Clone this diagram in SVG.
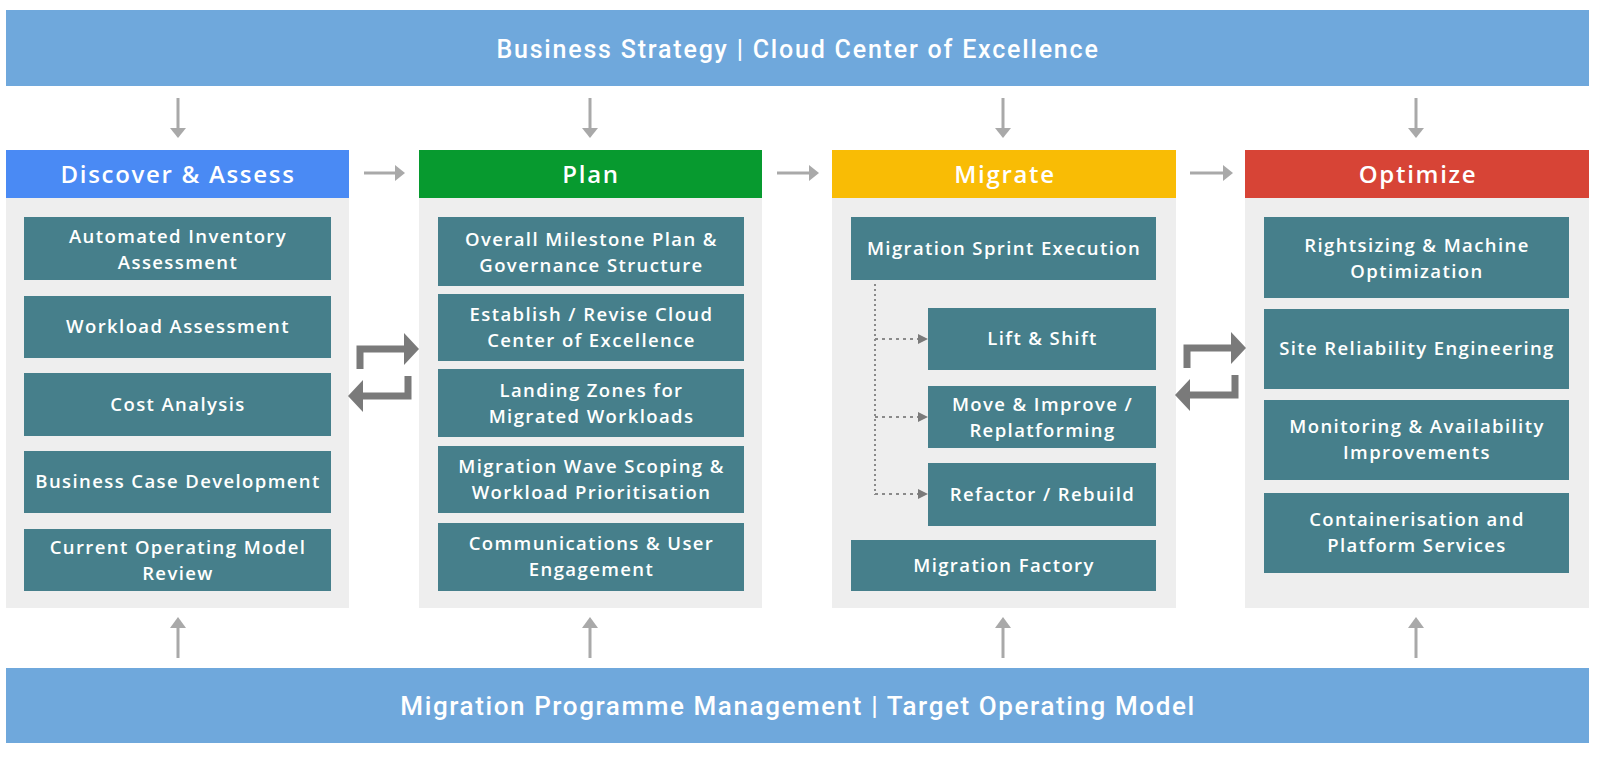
<svg xmlns="http://www.w3.org/2000/svg" width="1600" height="758" viewBox="0 0 1600 758">
<defs>
<style>
.band{fill:#6fa8dc}
.bandtxt{font-family:Roboto,"Liberation Sans",sans-serif;font-weight:500;font-size:25px;letter-spacing:1.8px;fill:#fff;text-anchor:middle}
.panel{fill:#eeeeee}
.hdrtxt{font-family:"Open Sans","Liberation Sans",sans-serif;font-weight:600;font-size:24px;letter-spacing:1.7px;fill:#fff;text-anchor:middle}
.box{fill:#467f8b}
.btxt{font-family:"Open Sans","Liberation Sans",sans-serif;font-weight:600;font-size:18.5px;letter-spacing:1.4px;fill:#fff;text-anchor:middle}
.flow{stroke:#a9a9a9;stroke-width:3;fill:none}
.flowhead{fill:#a9a9a9}
.swap{stroke:#7a7a7a;stroke-width:7;fill:none}
.swaphead{fill:#7a7a7a}
.dot{stroke:#8a8a8a;stroke-width:2;fill:none;stroke-dasharray:3 4}
</style>
<g id="swapicon">
<path class="swap" d="M360,369 V349 H407"/>
<polygon class="swaphead" points="404,333 419,349 404,365"/>
<path class="swap" d="M408,376 V396 H361"/>
<polygon class="swaphead" points="363,380 348,396 363,412"/>
</g>
</defs>

<g id="top-band">
<rect class="band" x="6" y="10" width="1583" height="76"/>
<text class="bandtxt" x="798" y="58">Business Strategy | Cloud Center of Excellence</text>
</g>

<g id="bottom-band">
<rect class="band" x="6" y="668" width="1583" height="75"/>
<text class="bandtxt" x="798" y="715" style="font-size:26px;letter-spacing:1.6px">Migration Programme Management | Target Operating Model</text>
</g>

<g id="discover">
<rect class="panel" x="6" y="198" width="343" height="410"/>
<rect x="6" y="150" width="343" height="48" fill="#4a8af4"/>
<text class="hdrtxt" x="178" y="183">Discover &amp; Assess</text>
<g id="d1"><rect class="box" x="24" y="217" width="307" height="63"/><text class="btxt" x="178" y="243">Automated Inventory</text><text class="btxt" x="178" y="269">Assessment</text></g>
<g id="d2"><rect class="box" x="24" y="296" width="307" height="62"/><text class="btxt" x="178" y="333">Workload Assessment</text></g>
<g id="d3"><rect class="box" x="24" y="373" width="307" height="63"/><text class="btxt" x="178" y="411">Cost Analysis</text></g>
<g id="d4"><rect class="box" x="24" y="451" width="307" height="62"/><text class="btxt" x="178" y="488">Business Case Development</text></g>
<g id="d5"><rect class="box" x="24" y="529" width="307" height="62"/><text class="btxt" x="178" y="554">Current Operating Model</text><text class="btxt" x="178" y="580">Review</text></g>
</g>

<g id="plan">
<rect class="panel" x="419" y="198" width="343" height="410"/>
<rect x="419" y="150" width="343" height="48" fill="#079a2f"/>
<text class="hdrtxt" x="591" y="183">Plan</text>
<g id="p1"><rect class="box" x="438" y="217" width="306" height="69"/><text class="btxt" x="591.5" y="246">Overall Milestone Plan &amp;</text><text class="btxt" x="591.5" y="272">Governance Structure</text></g>
<g id="p2"><rect class="box" x="438" y="294" width="306" height="67"/><text class="btxt" x="591.5" y="321">Establish / Revise Cloud</text><text class="btxt" x="591.5" y="347">Center of Excellence</text></g>
<g id="p3"><rect class="box" x="438" y="369" width="306" height="68"/><text class="btxt" x="591.5" y="397">Landing Zones for</text><text class="btxt" x="591.5" y="423">Migrated Workloads</text></g>
<g id="p4"><rect class="box" x="438" y="446" width="306" height="67"/><text class="btxt" x="591.5" y="473">Migration Wave Scoping &amp;</text><text class="btxt" x="591.5" y="499">Workload Prioritisation</text></g>
<g id="p5"><rect class="box" x="438" y="523" width="306" height="68"/><text class="btxt" x="591.5" y="550">Communications &amp; User</text><text class="btxt" x="591.5" y="576">Engagement</text></g>
</g>

<g id="migrate">
<rect class="panel" x="832" y="198" width="344" height="410"/>
<rect x="832" y="150" width="344" height="48" fill="#f9bc05"/>
<text class="hdrtxt" x="1005" y="183">Migrate</text>
<g id="m1"><rect class="box" x="851" y="217" width="305" height="63"/><text class="btxt" x="1004" y="255">Migration Sprint Execution</text></g>
<g id="m2"><rect class="box" x="928" y="308" width="228" height="62"/><text class="btxt" x="1042.5" y="345">Lift &amp; Shift</text></g>
<g id="m3"><rect class="box" x="928" y="386" width="228" height="62"/><text class="btxt" x="1042.5" y="411">Move &amp; Improve /</text><text class="btxt" x="1042.5" y="437">Replatforming</text></g>
<g id="m4"><rect class="box" x="928" y="463" width="228" height="63"/><text class="btxt" x="1042.5" y="501">Refactor / Rebuild</text></g>
<g id="m5"><rect class="box" x="851" y="540" width="305" height="51"/><text class="btxt" x="1004" y="572">Migration Factory</text></g>
</g>

<g id="optimize">
<rect class="panel" x="1245" y="198" width="344" height="410"/>
<rect x="1245" y="150" width="344" height="48" fill="#d74436"/>
<text class="hdrtxt" x="1418" y="183">Optimize</text>
<g id="o1"><rect class="box" x="1264" y="217" width="305" height="81"/><text class="btxt" x="1417" y="252">Rightsizing &amp; Machine</text><text class="btxt" x="1417" y="278">Optimization</text></g>
<g id="o2"><rect class="box" x="1264" y="309" width="305" height="80"/><text class="btxt" x="1417" y="355">Site Reliability Engineering</text></g>
<g id="o3"><rect class="box" x="1264" y="400" width="305" height="80"/><text class="btxt" x="1417" y="433">Monitoring &amp; Availability</text><text class="btxt" x="1417" y="459">Improvements</text></g>
<g id="o4"><rect class="box" x="1264" y="493" width="305" height="80"/><text class="btxt" x="1417" y="526">Containerisation and</text><text class="btxt" x="1417" y="552">Platform Services</text></g>
</g>

<g id="connectors">
<g>
<line class="flow" x1="178" y1="98" x2="178" y2="131"/><polygon class="flowhead" points="170,128 178,138 186,128"/>
<line class="flow" x1="590" y1="98" x2="590" y2="131"/><polygon class="flowhead" points="582,128 590,138 598,128"/>
<line class="flow" x1="1003" y1="98" x2="1003" y2="131"/><polygon class="flowhead" points="995,128 1003,138 1011,128"/>
<line class="flow" x1="1416" y1="98" x2="1416" y2="131"/><polygon class="flowhead" points="1408,128 1416,138 1424,128"/>
</g>
<g>
<line class="flow" x1="178" y1="658" x2="178" y2="625"/><polygon class="flowhead" points="170,628 178,617 186,628"/>
<line class="flow" x1="590" y1="658" x2="590" y2="625"/><polygon class="flowhead" points="582,628 590,617 598,628"/>
<line class="flow" x1="1003" y1="658" x2="1003" y2="625"/><polygon class="flowhead" points="995,628 1003,617 1011,628"/>
<line class="flow" x1="1416" y1="658" x2="1416" y2="625"/><polygon class="flowhead" points="1408,628 1416,617 1424,628"/>
</g>
<g>
<line class="flow" x1="364" y1="173" x2="398" y2="173"/><polygon class="flowhead" points="395,165 405,173 395,181"/>
<line class="flow" x1="777" y1="173" x2="812" y2="173"/><polygon class="flowhead" points="809,165 819,173 809,181"/>
<line class="flow" x1="1190" y1="173" x2="1226" y2="173"/><polygon class="flowhead" points="1223,165 1233,173 1223,181"/>
</g>
<use href="#swapicon"/>
<use href="#swapicon" transform="translate(827,-1)"/>
<g>
<path class="dot" d="M875,284 V495" style="stroke-dasharray:2 3"/>
<path class="dot" d="M875,339 H921"/><polygon points="918,334 928,339 918,344" fill="#7a7a7a"/>
<path class="dot" d="M875,417 H921"/><polygon points="918,412 928,417 918,422" fill="#7a7a7a"/>
<path class="dot" d="M875,494 H921"/><polygon points="918,489 928,494 918,499" fill="#7a7a7a"/>
</g>
</g>
</svg>
